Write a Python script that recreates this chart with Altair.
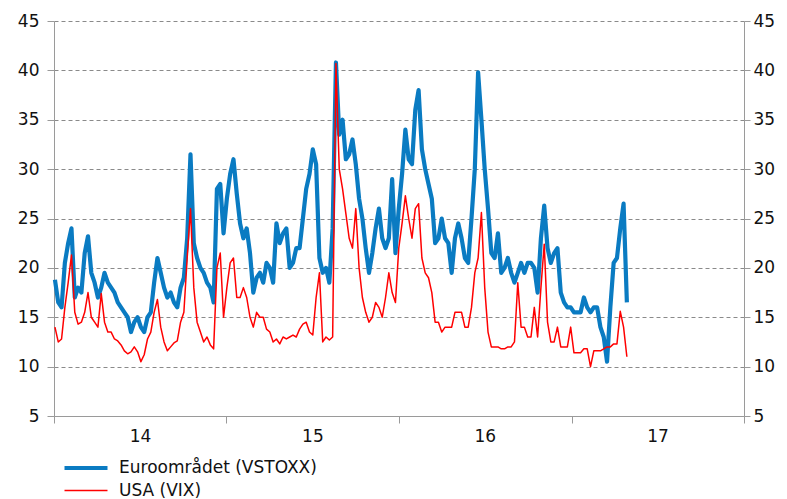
import altair as alt
import pandas as pd

series_names = ["Euroområdet (VSTOXX)", "USA (VIX)"]
series_colors = ["#0A7BC2", "#FF0000"]
series_widths = [4.2, 1.5]
year_ticks = [2014, 2015, 2016, 2017, 2018]
y_ticks = [5, 10, 15, 20, 25, 30, 35, 40, 45]

# weekly readings starting 2014-01-03
vstoxx = [
    18.8, 16.5, 16, 20.5, 22.5, 24, 17, 18, 17.5, 21.5,
    23.2, 19.5, 18.5, 17, 18, 19.5, 18.5, 18, 17.5, 16.5,
    16, 15.5, 15, 13.5, 14.5, 15, 14, 13.5, 15, 15.5,
    18.5, 21, 19.5, 18, 17, 17.5, 16.5, 16, 18, 19,
    23, 31.5, 22.5, 21, 20, 19.5, 18.5, 18, 16.5, 28,
    28.5, 23.5, 27, 29.5, 31, 27.5, 24.5, 23, 24, 21.5,
    17.5, 19, 19.5, 18.5, 20.5, 20, 18.5, 24.5, 22.5, 23.5,
    24, 20, 20.5, 22, 22, 25, 28, 29.5, 32, 30.5,
    21, 19.5, 20, 18.5, 24, 40.8, 33.5, 35, 31, 31.5,
    33, 30.5, 27, 25, 22, 19.5, 21.5, 24, 26, 23,
    22, 23, 29, 21.5, 26, 29.5, 34, 31, 30.5, 36,
    38, 32, 30, 28.5, 27, 22.5, 23, 25, 23, 22.5,
    19.5, 23, 24.5, 23, 21, 20.5, 25, 30, 39.8, 35,
    30, 26, 21.5, 21, 23.5, 19.5, 20, 21, 19.5, 18.5,
    19.5, 20.5, 19.5, 20.5, 20.5, 20, 17.5, 23, 26.3, 22,
    20.5, 21.5, 22, 17.5, 16.5, 16, 16, 15.5, 15.5, 15.5,
    17, 16, 15.5, 16, 16, 14, 13, 10.5, 16, 20.5,
    21, 24, 26.5, 16.5,
]
vix = [
    14, 12.5, 12.8, 16, 18.5, 21.3, 15.5, 14.3, 14.5, 15.5,
    17.5, 15, 14.5, 14, 17.4, 14.5, 13.5, 13.5, 12.8, 12.6,
    12.2, 11.6, 11.3, 11.5, 12, 11.5, 10.5, 11.2, 12.8, 13.5,
    15.5, 16.8, 14, 12.5, 11.6, 12, 12.4, 12.6, 14.5, 15.5,
    21, 26, 18, 14.5, 13.5, 12.5, 13, 12.2, 11.8, 20,
    21.5, 15, 18, 20.5, 21, 17, 17, 18, 17, 15,
    14, 15.5, 15, 15, 13.8, 13.5, 12.5, 12.8, 12.3, 13,
    12.8, 13, 13.2, 13, 13.8, 14.3, 14.5, 13.5, 13.2, 17,
    19.5, 12.5, 13, 12.7, 13, 40.7, 30, 28, 25.5, 23,
    22, 26, 20, 17, 15.5, 14.5, 15, 16.5, 16, 15,
    17, 19.5, 17.5, 16.5, 22, 24.5, 27.3, 25, 23, 26,
    26.5, 21, 19.5, 19, 17.5, 14.5, 14.5, 13.5, 14, 14,
    14, 15.5, 15.5, 15.5, 14, 14, 16, 19.5, 21, 25.6,
    18, 13.5, 12, 12, 12, 11.8, 11.8, 12, 12, 12.5,
    18.5, 14, 14, 13, 13, 16, 13, 18, 22.4, 14.5,
    12.5, 12.5, 14, 12, 12, 12, 14, 11.4, 11.4, 11.4,
    11.8, 11.8, 10, 11.6, 11.6, 11.6, 11.8, 12, 12, 12.3,
    12.3, 15.6, 14, 11,
]

dates = pd.date_range("2014-01-03", periods=len(vstoxx), freq="7D")
df_eu = pd.DataFrame({"date": dates, "value": vstoxx, "series": series_names[0]})
df_us = pd.DataFrame({"date": dates, "value": vix, "series": series_names[1]})

FONT = "DejaVu Sans"
AX = "#9a9a9a"

x_enc = alt.X(
    "date:T",
    scale=alt.Scale(domain=[alt.DateTime(year=2014, month=1, date=1),
                            alt.DateTime(year=2018, month=1, date=1)]),
    axis=alt.Axis(
        values=[alt.DateTime(year=y, month=1, date=1) for y in year_ticks],
        labelExpr="year(datum.value) >= 2018 ? '' : timeFormat(datum.value, '%y')",
        labelOffset=86, labelFlush=False, labelOverlap=False,
        tickSize=7, labelPadding=5, grid=False, title=None,
        domainColor=AX, tickColor=AX, labelFontSize=17, labelFont=FONT,
        labelColor="#111",
    ),
)
y_scale = alt.Scale(domain=[5, 45], nice=False, zero=False)
color_enc = alt.Color("series:N", scale=alt.Scale(domain=series_names, range=series_colors), title=None)
width_enc = alt.StrokeWidth("series:N", scale=alt.Scale(domain=series_names, range=series_widths), title=None)

left = alt.Chart(df_eu).mark_line(strokeJoin="round").encode(
    x=x_enc,
    y=alt.Y("value:Q", scale=y_scale, axis=alt.Axis(
        values=y_ticks, grid=True, gridDash=[4, 3], gridColor="#8a8a8a", gridWidth=1,
        tickSize=7, labelPadding=8, title=None, domainColor=AX, tickColor=AX,
        labelFontSize=17, labelFont=FONT, labelColor="#111")),
    color=color_enc, strokeWidth=width_enc,
)
right = alt.Chart(df_us).mark_line(strokeJoin="round").encode(
    x=x_enc,
    y=alt.Y("value:Q", scale=y_scale, axis=alt.Axis(
        orient="right", values=y_ticks, grid=False,
        tickSize=6, labelPadding=3, title=None, domainColor=AX, tickColor=AX,
        labelFontSize=17, labelFont=FONT, labelColor="#111")),
    color=color_enc, strokeWidth=width_enc,
)

chart = alt.layer(left, right).resolve_scale(y="independent").properties(
    width=690, height=395,
    autosize=alt.AutoSizeParams(type="none"),
    padding={"left": 46, "top": 13, "right": 32, "bottom": 83},
).configure_view(stroke=None).configure_legend(
    orient="none", legendX=19, legendY=434, symbolType="M-2,0H2", symbolSize=462,
    labelFontSize=17, labelFont=FONT, labelColor="#111", labelOffset=20,
    labelLimit=0, rowPadding=2, padding=0, titlePadding=0,
)

chart.save("out.html", embed_options={"renderer": "svg", "actions": False})
